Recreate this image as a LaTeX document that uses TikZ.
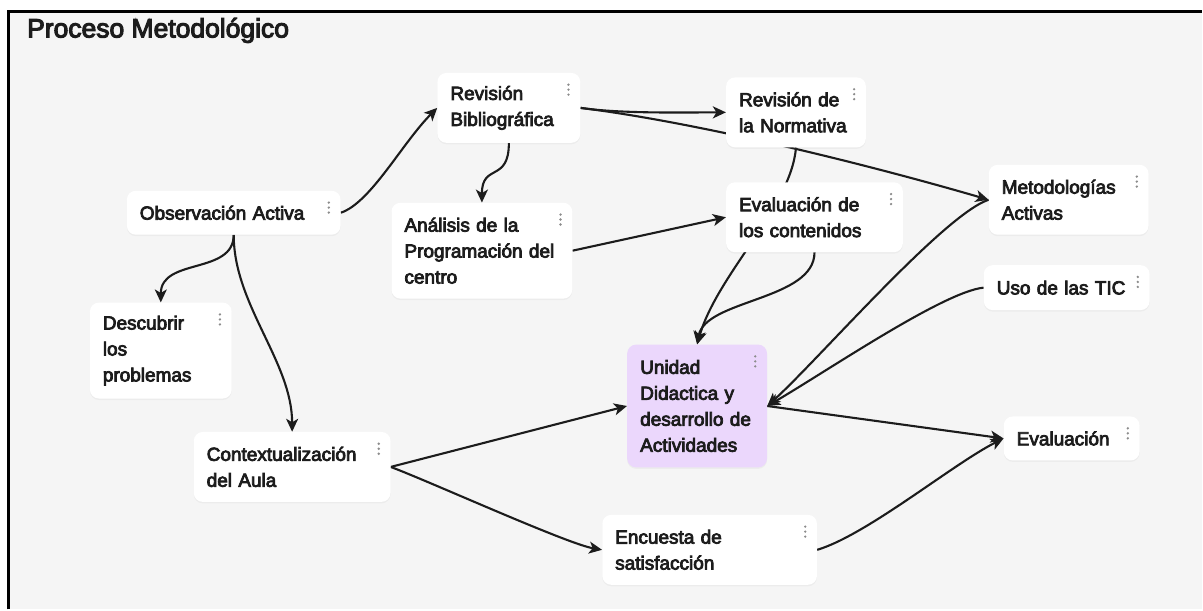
\documentclass[tikz,border=0pt]{standalone}
\usepackage{fontspec}
\setmainfont{Liberation Sans}
\newfontfamily\medfont{Liberation Sans}[FakeBold=4]
\usepackage{xcolor}
\usetikzlibrary{arrows.meta, shadows}

\definecolor{board}{HTML}{F5F5F5}
\definecolor{ink}{HTML}{1C1C1C}
\definecolor{lila}{HTML}{EBD7FC}
\definecolor{dotgray}{HTML}{8C8C8C}

\pgfdeclarelayer{background}
\pgfsetlayers{background,main}

\begin{document}
\begin{tikzpicture}[
		x=1pt, y=-1pt,
		>={Stealth[length=13pt,width=12pt,inset=3.5pt]},
		card/.style={fill=white, rounded corners=9pt, inner xsep=13pt, inner ysep=0pt,
			align=left, text=ink, font=\medfont\fontsize{19}{26}\selectfont,
			drop shadow={opacity=0.07, shadow xshift=0pt, shadow yshift=-1.5pt}},
		focus/.style={card, fill=lila},
		link/.style={->, draw=ink, line width=2.1pt}
		]
		
		% ==========================================
		% TITLE
		% ==========================================
		\node[anchor=base west, inner sep=0pt, text=ink, font=\medfont\fontsize{26.5}{30}\selectfont] (title) at (27,37.5) {Proceso Metodológico};
		
		% ==========================================
		% CARDS
		% ==========================================
		\node[card, text width=188pt, minimum height=44pt] (obs) at (234,213) {Observación Activa};
		\node[card, text width=117pt, minimum height=70pt] (bib) at (509.5,108) {Revisión\\ Bibliográfica};
		\node[card, text width=155pt, minimum height=96pt] (ana) at (482.5,251) {Análisis de la\\ Programación del\\ centro};
		\node[card, text width=114pt, minimum height=70pt] (norm) at (797,112.5) {Revisión de\\ la Normativa};
		\node[card, text width=151pt, minimum height=70pt] (evc) at (815.5,217.5) {Evaluación de\\ los contenidos};
		\node[card, text width=134pt, minimum height=70pt] (met) at (1070,200) {Metodologías\\ Activas};
		\node[card, text width=140pt, minimum height=45pt] (tic) at (1068,288) {Uso de las TIC};
		\node[card, text width=116pt, minimum height=96pt] (desc) at (161,351) {Descubrir\\ los\\ problemas};
		\node[focus, text width=114pt, minimum height=123pt] (uni) at (698,406.5) {Unidad\\ Didactica y\\ desarrollo de\\ Actividades};
		\node[card, text width=110pt, minimum height=44pt] (eva) at (1073,439) {Evaluación};
		\node[card, text width=171pt, minimum height=70pt] (ctx) at (292.5,467.5) {Contextualización\\ del Aula};
		\node[card, text width=189pt, minimum height=70pt] (enc) at (710.5,550.5) {Encuesta de\\ satisfacción};
		
		% menu dots
		\foreach \n in {obs,bib,ana,norm,evc,met,tic,desc,uni,eva,ctx,enc}
		\foreach \k in {12pt,17pt,22pt}
		\fill[dotgray] ([xshift=-12pt,yshift=-\k]\n.north east) circle (1.3pt);
		
		% ==========================================
		% BOARD AND CONNECTORS (behind the cards)
		% ==========================================
		\begin{pgfonlayer}{background}
			\fill[white] (0,0) rectangle (1203,610);
			\fill[board] (9,12) rectangle (1203,610);
			\draw[line width=3pt, draw=black] (9,610) -- (9,12) -- (1203,12);
			
			\draw[link] (obs.east) .. controls +(30,-10) and +(-35,35) .. (bib.west);
			\draw[link] (bib.south) .. controls +(0,40) and +(0,-40) .. (ana.north);
			\draw[link] (bib.east) .. controls +(40,6) and +(-40,0) .. (norm.west);
			\draw[link] (bib.east) .. controls +(120,15) and +(-120,-35) .. (met.west);
			\draw[link] (ana.east) -- (evc.west);
			\draw[link] (norm.south) .. controls +(-5,60) and +(20,-70) .. (uni.north);
			\draw[link] (evc.south) .. controls +(0,48) and +(8,-45) .. (uni.north);
			\draw[link] (met.west) .. controls +(-45,15) and +(50,-45) .. (uni.east);
			\draw[link] (tic.west) .. controls +(-40,4) and +(60,-35) .. (uni.east);
			\draw[link] (uni.east) -- (eva.west);
			\draw[link] (enc.east) .. controls +(50,-15) and +(-50,25) .. (eva.west);
			\draw[link] (ctx.east) -- (uni.west);
			\draw[link] (ctx.east) .. controls +(40,15) and +(-35,-6) .. (enc.west);
			\draw[link] (obs.south) .. controls +(0,40) and +(0,-45) .. (desc.north);
			\draw[link] (obs.south) .. controls +(0,70) and +(0,-70) .. (ctx.north);
		\end{pgfonlayer}
		
	\end{tikzpicture}
\end{document}
